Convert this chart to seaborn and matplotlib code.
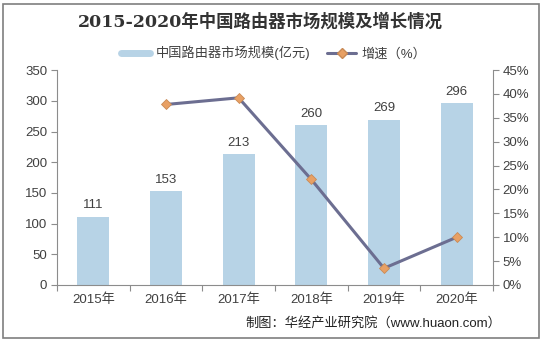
import matplotlib
matplotlib.use("Agg")
import matplotlib.pyplot as plt
import seaborn as sns
import pandas as pd
import numpy as np
from matplotlib.patches import Rectangle
from matplotlib.lines import Line2D

years = ["2015年", "2016年", "2017年", "2018年", "2019年", "2020年"]
market_size = [111, 153, 213, 260, 269, 296]
growth_pct = [np.nan, 37.8, 39.2, 22.1, 3.5, 10.0]
left_ticks = [0, 50, 100, 150, 200, 250, 300, 350]
right_ticks = [0, 5, 10, 15, 20, 25, 30, 35, 40, 45]

sns.set_theme(style="white")
plt.rcParams['font.family'] = ['Liberation Sans', 'Noto Sans CJK SC', 'DejaVu Sans']

bar_color = "#B7D3E6"
line_color = "#6C6E91"
marker_color = "#E8A064"
axis_color = "#8C8C8C"
text_color = "#404040"

fig = plt.figure(figsize=(5.42, 3.42), dpi=100)
ax = fig.add_axes([0.105, 0.1667, 0.8046, 0.6283])

df = pd.DataFrame({"year": years, "size": market_size, "growth": growth_pct,
                   "idx": np.arange(len(years))})

sns.barplot(data=df, x="year", y="size", ax=ax, color=bar_color, width=0.44,
            saturation=1, edgecolor="none")
ax.set_ylim(0, 350)
ax.set_yticks(left_ticks)
ax.set_xlim(-0.5, 5.5)
ax.set_xlabel("")
ax.set_ylabel("")
for i, v in enumerate(market_size):
    ax.text(i, v + 9, str(v), ha="center", va="bottom", fontsize=9.5, color=text_color)

ax2 = ax.twinx()
sns.lineplot(data=df, x="idx", y="growth", ax=ax2, color=line_color, linewidth=2.2,
             marker="D", markersize=5.5, markerfacecolor=marker_color,
             markeredgecolor="#C98A55", markeredgewidth=0.6)
ax2.set_ylim(0, 45)
ax2.set_yticks(right_ticks)
ax2.set_yticklabels([f"{t}%" for t in right_ticks])
ax2.set_xlim(-0.5, 5.5)
ax2.set_ylabel("")
ax2.set_xlabel("")

for a in (ax, ax2):
    a.spines["top"].set_visible(False)
    for s in ["left", "right", "bottom"]:
        a.spines[s].set_color(axis_color)
        a.spines[s].set_linewidth(0.8)
ax.spines["right"].set_visible(False)
ax2.spines["left"].set_visible(False)
ax2.spines["bottom"].set_visible(False)

ax.tick_params(axis="y", direction="out", length=4, width=0.8, color=axis_color,
               labelsize=9.5, labelcolor=text_color, pad=3)
ax2.tick_params(axis="y", direction="out", length=4, width=0.8, color=axis_color,
                labelsize=9.5, labelcolor=text_color, pad=3)
ax.set_xticks(range(len(years)))
ax.set_xticklabels(years)
ax.tick_params(axis="x", length=0, labelsize=9.5, labelcolor=text_color, pad=6)
ax.set_xticks(np.arange(-0.5, 6, 1), minor=True)
ax.tick_params(axis="x", which="minor", direction="out", length=4, width=0.8,
               color=axis_color, bottom=True)
ax2.tick_params(axis="x", length=0, labelbottom=False)

fig.text(0.481, 0.935, "2015-2020年中国路由器市场规模及增长情况", ha="center", va="center",
         fontsize=12.5, fontweight="bold", color="#333333",
         family=['DejaVu Serif', 'Noto Sans CJK SC'])

handles = [Line2D([0], [0], color=bar_color, linewidth=5),
           Line2D([0], [0], color=line_color, linewidth=2.2, marker="D", markersize=5,
                  markerfacecolor=marker_color, markeredgecolor="#C98A55")]
fig.legend(handles, ["中国路由器市场规模(亿元)", "增速（%）"], loc="center",
           bbox_to_anchor=(0.505, 0.845), ncol=2, frameon=False, fontsize=9.5,
           handlelength=2.2, columnspacing=1.3, handletextpad=0.4,
           labelcolor=text_color)

fig.text(0.925, 0.055, "制图：华经产业研究院（www.huaon.com）", ha="right", va="center",
         fontsize=9.5, color="#222222")

fig.patches.append(Rectangle((0.006, 0.012), 0.988, 0.976, transform=fig.transFigure,
                             fill=False, edgecolor="#7F7F7F", linewidth=1.2))

fig.savefig("out.png", dpi=100)
